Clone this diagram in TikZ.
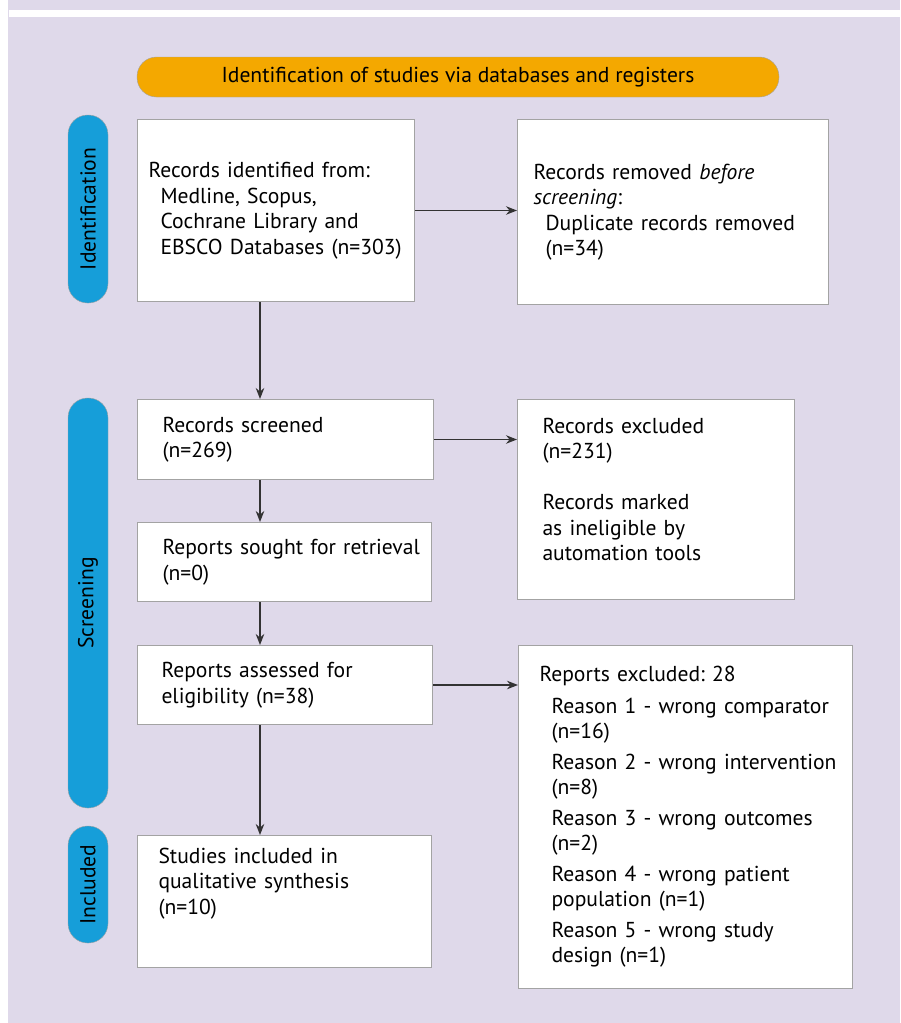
\documentclass[tikz,border=0pt]{standalone}
\usepackage{fontspec}
\setmainfont{PT Sans}
\frenchspacing
\usetikzlibrary{arrows.meta, positioning}

\definecolor{bgpurple}{HTML}{DFD9EA}
\definecolor{bandorange}{HTML}{F4A800}
\definecolor{stageblue}{HTML}{169ED9}
\definecolor{boxline}{HTML}{A3A3A3}
\definecolor{arrowgray}{HTML}{333333}

\newcommand{\inset}{\hspace*{12pt}}

\begin{document}
\begin{tikzpicture}[x=1pt, y=-1pt,
    box/.style={draw=boxline, fill=white, line width=1pt, anchor=north west,
        align=left, inner xsep=0pt, inner ysep=0pt,
        font=\fontsize{21.6}{25.5}\selectfont},
    lpad/.style={execute at begin node={\leftskip=#1}},
    stage/.style={draw=boxline, fill=stageblue, rounded corners=19.5pt,
        minimum height=40pt, inner sep=0pt, rotate=90,
        font=\fontsize{21.6}{24}\selectfont},
    band/.style={draw=boxline, fill=bandorange, rounded corners=19.5pt,
        minimum height=40pt, minimum width=642pt, inner sep=0pt,
        font=\fontsize{21.6}{24}\selectfont},
    flow/.style={-{Stealth[length=11pt, width=8.5pt]}, draw=arrowgray, line width=1.3pt}]

    % page and frame
    \useasboundingbox (0,0) rectangle (900,1023);
    \fill[white] (0,0) rectangle (900,1023);
    \fill[bgpurple] (8,0) rectangle (900,1023);
    \fill[white] (9,10) rectangle (900,17);

    \node[band] (band) at (458,77) {Identification of studies via databases and registers};

    % stages
    \node[stage, minimum width=188pt] (lbident) at (88,209) {Identification};
    \node[stage, minimum width=410pt] (lbscreen) at (88,603) {Screening};
    \node[stage, minimum width=117pt] (lbincl) at (88,884.5) {Included};

    % left column
    \node[box, text width=277pt, minimum height=182pt, lpad=11pt] (ident) at (137,119)
        {Records identified from:\\
         \inset Medline, Scopus,\\
         \inset Cochrane Library and\\
         \inset EBSCO Databases (n=303)};
    \node[box, below=97pt of ident.south west, anchor=north west,
          text width=296pt, minimum height=80pt, lpad=25pt] (screen)
        {Records screened\\(n=269)};
    \node[box, below=42pt of screen.south west, anchor=north west,
          text width=294pt, minimum height=79pt, lpad=25pt] (sought)
        {Reports sought for retrieval\\(n=0)};
    \node[box, below=43pt of sought.south west, anchor=north west,
          text width=295pt, minimum height=79pt, lpad=24pt] (assess)
        {Reports assessed for\\eligibility (n=38)};
    \node[box, below=110pt of assess.south west, anchor=north west,
          text width=294pt, minimum height=132pt, lpad=21pt] (incl)
        {Studies included in\\qualitative synthesis\\(n=10)\\[15pt]\mbox{}};

    % right column
    \node[box, right=102pt of ident.north east, anchor=north west,
          text width=311pt, minimum height=185pt, lpad=16pt] (removed)
        {Records removed \textit{before}\\
         \textit{screening}:\\
         \inset Duplicate records removed\\
         \inset (n=34)};
    \node[box, right=83pt of screen.north east, anchor=north west,
          text width=277pt, minimum height=200pt, lpad=25pt] (excl)
        {Records excluded\\(n=231)\\[25.5pt]
         Records marked\\as ineligible by\\automation tools\\[-5pt]\mbox{}};
    \node[box, right=85pt of assess.north east, anchor=north west,
          text width=334pt, minimum height=343pt, lpad=21pt] (rexcl)
        {Reports excluded: 28\\[6pt]
         \inset Reason 1 - wrong comparator\\ \inset (n=16)\\[5pt]
         \inset Reason 2 - wrong intervention\\ \inset (n=8)\\[5pt]
         \inset Reason 3 - wrong outcomes\\ \inset (n=2)\\[5pt]
         \inset Reason 4 - wrong patient\\ \inset population (n=1)\\[5pt]
         \inset Reason 5 - wrong study\\ \inset design (n=1)};

    % connectors
    \coordinate (spine) at (260,0);
    \draw[flow] (ident.south -| spine) -- (screen.north -| spine);
    \draw[flow] (screen.south -| spine) -- (sought.north -| spine);
    \draw[flow] (sought.south -| spine) -- (assess.north -| spine);
    \draw[flow] (assess.south -| spine) -- (incl.north -| spine);
    \draw[flow] (ident.east) -- (ident.east -| removed.west);
    \draw[flow] (screen.east) -- (screen.east -| excl.west);
    \draw[flow] (assess.east) -- (assess.east -| rexcl.west);
\end{tikzpicture}
\end{document}
